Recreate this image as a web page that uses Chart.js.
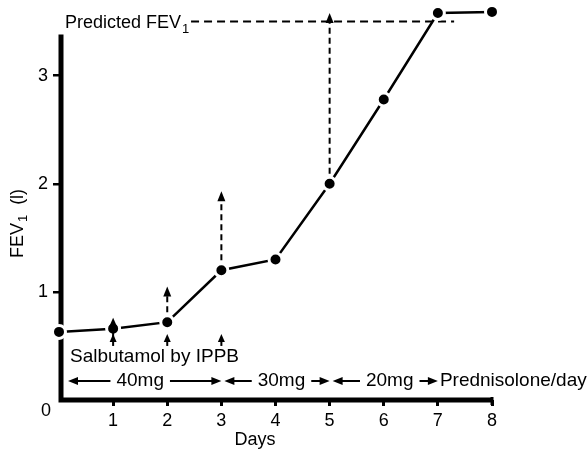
<!DOCTYPE html>
<html>
<head>
<meta charset="utf-8">
<script src="https://cdn.jsdelivr.net/npm/chart.js@4.4.1/dist/chart.umd.min.js"></script>
<style>
  html, body { margin: 0; padding: 0; background: #fff; }
  #wrap { width: 587px; height: 450px; }
</style>
</head>
<body>
<div id="wrap"><canvas id="fevChart"></canvas></div>
<script>
// FEV1 (litres) by day
var days = [0, 1, 2, 3, 4, 5, 6, 7, 8];
var fev = [0.63, 0.66, 0.72, 1.2, 1.3, 2.0, 2.78, 3.58, 3.59];

// dashed arrows: response to salbutamol by IPPB
var arrowDays = [2, 3, 5];
var arrowFrom = [0.72, 1.2, 2.0];
var arrowTo = [1.05, 1.93, 3.58];

// small solid arrows under the points
var ippbDays = [1, 2, 3];

// prednisolone dose periods
var doseStart = [0, 3, 5];
var doseEnd = [3, 5, 7];
var doseLabels = ['40mg', '30mg', '20mg'];

var predictedFev = 3.5;
var yTicks = [1, 2, 3];

var FONT = 'Liberation Sans, Arial, sans-serif';

function head(ctx, x, y, dir, len, half) {
    // dir: 'up', 'left', 'right'
    ctx.beginPath();
    if (dir == 'up') {
        ctx.moveTo(x, y);
        ctx.lineTo(x - half, y + len);
        ctx.lineTo(x + half, y + len);
    } else if (dir == 'left') {
        ctx.moveTo(x, y);
        ctx.lineTo(x + len, y - half);
        ctx.lineTo(x + len, y + half);
    } else {
        ctx.moveTo(x, y);
        ctx.lineTo(x - len, y - half);
        ctx.lineTo(x - len, y + half);
    }
    ctx.closePath();
    ctx.fill();
}

var behindPlugin = {
    id: 'behind',
    beforeDatasetsDraw: function (chart) {
        var ctx = chart.ctx;
        var xs = chart.scales.x, ys = chart.scales.y;
        var x0 = xs.getPixelForValue(0), y0 = ys.getPixelForValue(0);
        ctx.save();
        ctx.fillStyle = '#000';
        ctx.strokeStyle = '#000';
        // axes
        ctx.lineWidth = 5;
        ctx.beginPath();
        ctx.moveTo(x0 + 2, ys.getPixelForValue(3.38));
        ctx.lineTo(x0 + 2, y0);
        ctx.lineTo(xs.getPixelForValue(8), y0);
        ctx.stroke();
        ctx.lineWidth = 3;
        ctx.beginPath();
        ctx.moveTo(xs.getPixelForValue(8), y0 - 3);
        ctx.lineTo(xs.getPixelForValue(8), y0 + 5);
        ctx.stroke();

        // dashed arrows
        ctx.lineWidth = 2;
        ctx.setLineDash([6, 4]);
        for (var i = 0; i < arrowDays.length; i++) {
            var ax = xs.getPixelForValue(arrowDays[i]);
            ctx.beginPath();
            ctx.moveTo(ax, ys.getPixelForValue(arrowFrom[i]));
            ctx.lineTo(ax, ys.getPixelForValue(arrowTo[i]) + 6);
            ctx.stroke();
        }
        ctx.setLineDash([]);
        for (var j = 0; j < arrowDays.length; j++) {
            head(ctx, xs.getPixelForValue(arrowDays[j]), ys.getPixelForValue(arrowTo[j]), 'up', 10, 4);
        }

        // predicted FEV1
        var py = ys.getPixelForValue(predictedFev);
        ctx.font = '18px ' + FONT;
        ctx.textBaseline = 'alphabetic';
        ctx.textAlign = 'left';
        var tx = 65;
        ctx.fillText('Predicted FEV', tx, py + 6);
        var w = ctx.measureText('Predicted FEV').width;
        ctx.font = '13px ' + FONT;
        ctx.fillText('1', tx + w + 1, py + 11);
        ctx.lineWidth = 2;
        ctx.setLineDash([8, 5]);
        ctx.beginPath();
        ctx.moveTo(tx + w + 10, py);
        ctx.lineTo(xs.getPixelForValue(7.3), py);
        ctx.stroke();
        ctx.setLineDash([]);
        ctx.restore();
    },
    afterDatasetsDraw: function (chart) {
        var ctx = chart.ctx;
        var xs = chart.scales.x, ys = chart.scales.y;
        ctx.save();
        ctx.fillStyle = '#000';
        ctx.strokeStyle = '#000';

        // small solid arrows
        ctx.lineWidth = 2;
        for (var i = 0; i < ippbDays.length; i++) {
            var ax = xs.getPixelForValue(ippbDays[i]);
            var top = ippbDays[i] == 1 ? 0.76 : 0.61;
            ctx.beginPath();
            ctx.moveTo(ax, ys.getPixelForValue(0.5));
            ctx.lineTo(ax, ys.getPixelForValue(top) + 5);
            ctx.stroke();
            head(ctx, ax, ys.getPixelForValue(top), 'up', 8, 3.5);
            if (ippbDays[i] == 1) {
                head(ctx, ax, ys.getPixelForValue(0.61), 'up', 8, 3.5);
            }
        }

        ctx.font = '19px ' + FONT;
        ctx.textAlign = 'left';
        ctx.textBaseline = 'middle';
        ctx.fillText('Salbutamol by IPPB', 70, ys.getPixelForValue(0.4));

        // dose row
        var dy = ys.getPixelForValue(0.175);
        ctx.textAlign = 'center';
        ctx.lineWidth = 2;
        for (var k = 0; k < doseLabels.length; k++) {
            var sx = xs.getPixelForValue(doseStart[k]) + (k == 0 ? 9 : 3);
            var ex = xs.getPixelForValue(doseEnd[k]);
            var cx = xs.getPixelForValue((doseStart[k] + doseEnd[k]) / 2) + (k == 0 ? 0 : 6);
            var tw = ctx.measureText(doseLabels[k]).width;
            ctx.fillText(doseLabels[k], cx, dy);
            ctx.beginPath();
            ctx.moveTo(sx + 6, dy);
            ctx.lineTo(cx - tw / 2 - 6, dy);
            ctx.moveTo(cx + tw / 2 + 6, dy);
            ctx.lineTo(ex - 6, dy);
            ctx.stroke();
            head(ctx, sx, dy, 'left', 10, 4);
            head(ctx, ex, dy, 'right', 10, 4);
        }
        ctx.textAlign = 'left';
        ctx.fillText('Prednisolone/day', xs.getPixelForValue(7) + 2, dy);

        // axis titles and the corner zero
        ctx.font = '18px ' + FONT;
        ctx.textAlign = 'center';
        ctx.fillText('Days', 255, 440);
        ctx.fillText('0', 46, 411);

        ctx.translate(18, 224);
        ctx.rotate(-Math.PI / 2);
        ctx.textAlign = 'left';
        var t1 = 'FEV', t2 = '  (l)';
        var w1 = ctx.measureText(t1).width;
        ctx.font = '13px ' + FONT;
        var ws = ctx.measureText('1').width;
        ctx.font = '18px ' + FONT;
        var w2 = ctx.measureText(t2).width;
        var start = -(w1 + ws + w2) / 2;
        ctx.fillText(t1, start, 0);
        ctx.fillText(t2, start + w1 + ws + 1, 0);
        ctx.font = '13px ' + FONT;
        ctx.fillText('1', start + w1 + 1, 5);
        ctx.restore();
    }
};

var chart = new Chart(document.getElementById('fevChart').getContext('2d'), {
    type: 'line',
    data: {
        datasets: [{
            data: days.map(function (d, i) { return {x: d, y: fev[i]}; }),
            borderColor: '#000',
            borderWidth: 2.5,
            pointRadius: 6.5,
            pointBorderWidth: 3,
            pointBorderColor: '#fff',
            pointBackgroundColor: '#000',
            tension: 0,
            clip: false
        }]
    },
    options: {
        responsive: true,
        maintainAspectRatio: false,
        animation: false,
        events: [],
        layout: { autoPadding: false, padding: { left: 0, right: 95, top: 0, bottom: 0 } },
        plugins: { legend: { display: false }, tooltip: { enabled: false } },
        scales: {
            x: {
                type: 'linear', min: 0, max: 8,
                afterFit: function (s) { s.height = 50; s.paddingLeft = 0; s.paddingRight = 0; },
                border: { display: false },
                grid: {
                    drawOnChartArea: false, tickLength: 6, lineWidth: 3,
                    color: function (c) { return c.tick && c.tick.value == 0 ? 'rgba(0,0,0,0)' : '#000'; }
                },
                ticks: {
                    stepSize: 1, color: '#000', padding: 4,
                    font: { family: FONT, size: 18 },
                    callback: function (v) { return v == 0 ? '' : v; }
                }
            },
            y: {
                type: 'linear', min: 0, max: 3.7,
                afterFit: function (s) { s.width = 59; s.paddingTop = 0; s.paddingBottom = 0; },
                afterBuildTicks: function (s) {
                    s.ticks = yTicks.map(function (v) { return {value: v}; });
                },
                border: { display: false },
                grid: { drawOnChartArea: false, tickLength: 6, lineWidth: 2.5, color: '#000' },
                ticks: {
                    color: '#000', padding: 5,
                    font: { family: FONT, size: 18 }
                }
            }
        }
    },
    plugins: [behindPlugin]
});
</script>
</body>
</html>
